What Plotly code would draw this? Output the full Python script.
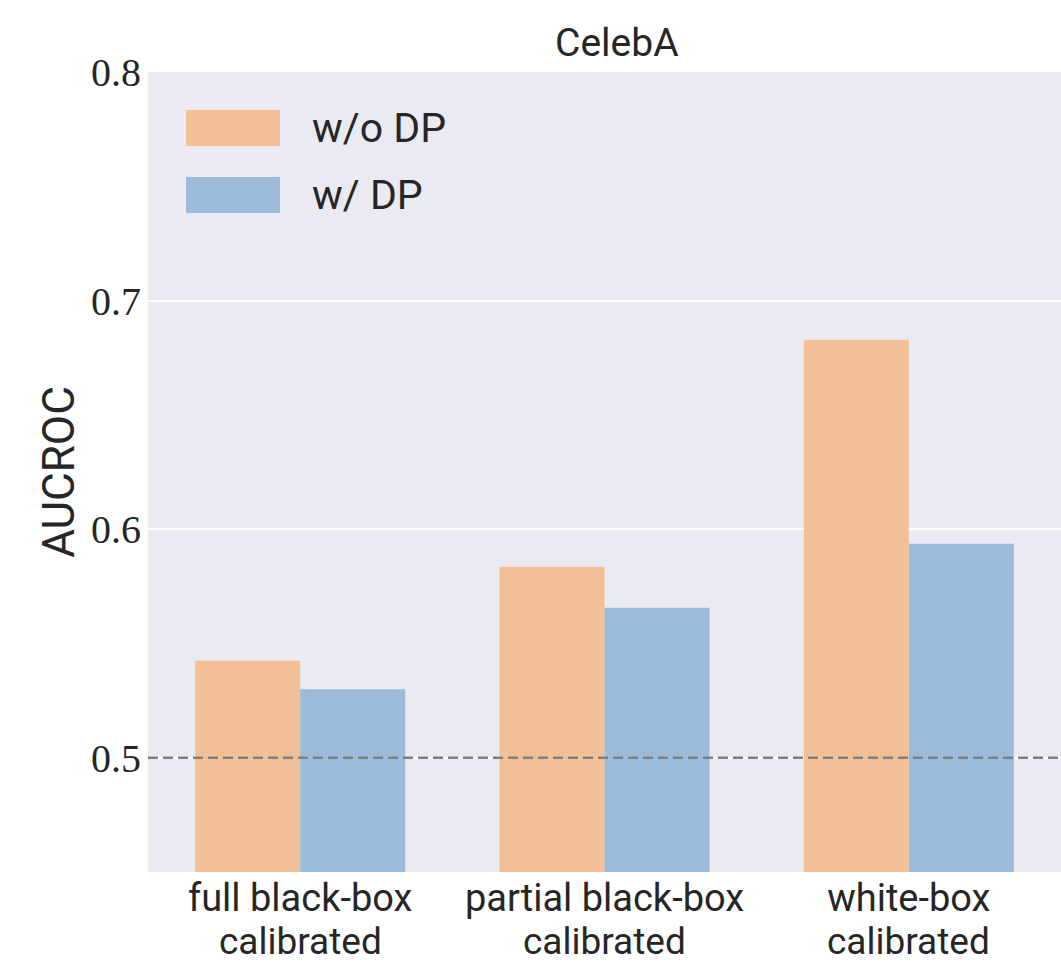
import plotly.graph_objects as go

categories = ["full black-box<br>calibrated", "partial black-box<br>calibrated", "white-box<br>calibrated"]
series_names = ["w/o DP", "w/ DP"]
wo_dp = [0.5424, 0.5836, 0.6829]
w_dp = [0.5300, 0.5656, 0.5936]
y_ticks = [0.5, 0.6, 0.7, 0.8]
baseline = 0.5
subplot_title = "CelebA"
y_title = "AUCROC"

ORANGE = "rgb(243,191,151)"
BLUE = "rgb(154,188,218)"
SANS = "Roboto, Liberation Sans, sans-serif"
SERIF = "Liberation Serif, DejaVu Serif, serif"
TXT = "#262626"

L, T, B = 148, 72, 91
W, H = 1061, 963
PW, PH = W - L, H - T - B

first_lines = [c.split("<br>")[0] for c in categories]
second_lines = [c.split("<br>")[1] for c in categories]

fig = go.Figure()
fig.add_trace(go.Bar(x=categories, y=wo_dp, name=series_names[0],
                     marker=dict(color=ORANGE, line=dict(width=0)), showlegend=False))
fig.add_trace(go.Bar(x=categories, y=w_dp, name=series_names[1],
                     marker=dict(color=BLUE, line=dict(width=0)), showlegend=False))

# baseline dashed line on top of bars
fig.add_shape(type="line", xref="paper", yref="y", x0=0, x1=1, y0=baseline, y1=baseline,
              line=dict(color="rgb(128,128,128)", width=2.5, dash="10px,5px"), layer="above")

# legend (manual, matplotlib-style large patches)
for i, (nm, col) in enumerate(zip(series_names, [ORANGE, BLUE])):
    yc = 128 + i * 67
    fig.add_shape(type="rect", xref="paper", yref="paper",
                  x0=(186 - L) / PW, x1=(280 - L) / PW,
                  y0=(872 - (yc + 18)) / PH, y1=(872 - (yc - 18)) / PH,
                  fillcolor=col, line=dict(width=0), layer="above")
    fig.add_annotation(xref="paper", yref="paper", x=(310 - L) / PW, y=(872 - yc) / PH,
                       text=nm, showarrow=False, xanchor="left", yanchor="middle",
                       font=dict(family=SANS, size=41, color=TXT))

fig.add_annotation(xref="paper", yref="paper", x=(617 - L) / PW, y=1.0, yshift=4,
                   text=subplot_title, showarrow=False, xanchor="center", yanchor="bottom",
                   font=dict(family=SANS, size=39, color=TXT))

# second line of category labels (tighter line spacing than plotly's default)
for c, s in zip(categories, second_lines):
    fig.add_annotation(xref="x", yref="paper", x=c, y=(872 - 941) / PH,
                       text=s, showarrow=False, xanchor="center", yanchor="middle",
                       borderpad=0, font=dict(family=SANS, size=37, color=TXT))

fig.update_layout(
    width=W, height=H,
    margin=dict(l=L, r=0, t=T, b=B, autoexpand=False, pad=0),
    paper_bgcolor="white", plot_bgcolor="#EAEAF2",
    barmode="group", bargap=0.31, bargroupgap=0,
    font=dict(family=SANS, color=TXT),
)
fig.update_xaxes(range=[-0.5, 2.5], showgrid=False, zeroline=False, ticks="", automargin=False,
                 tickvals=categories, ticktext=first_lines,
                 tickfont=dict(family=SANS, size=38, color=TXT), ticklabelstandoff=0)
fig.update_yaxes(range=[0.45, 0.8], tickvals=y_ticks, ticktext=[f"{v:.1f}" for v in y_ticks],
                 showgrid=True, gridcolor="white", gridwidth=1.5, zeroline=False, ticks="",
                 automargin=False,
                 tickfont=dict(family=SERIF, size=40, color=TXT), ticklabelstandoff=6,
                 title=dict(text=y_title, font=dict(family=SANS, size=44, color=TXT), standoff=2))

fig.write_html("out.html", config={"displayModeBar": False},
               post_script="document.body.style.margin='0';document.body.style.overflow='hidden';")
